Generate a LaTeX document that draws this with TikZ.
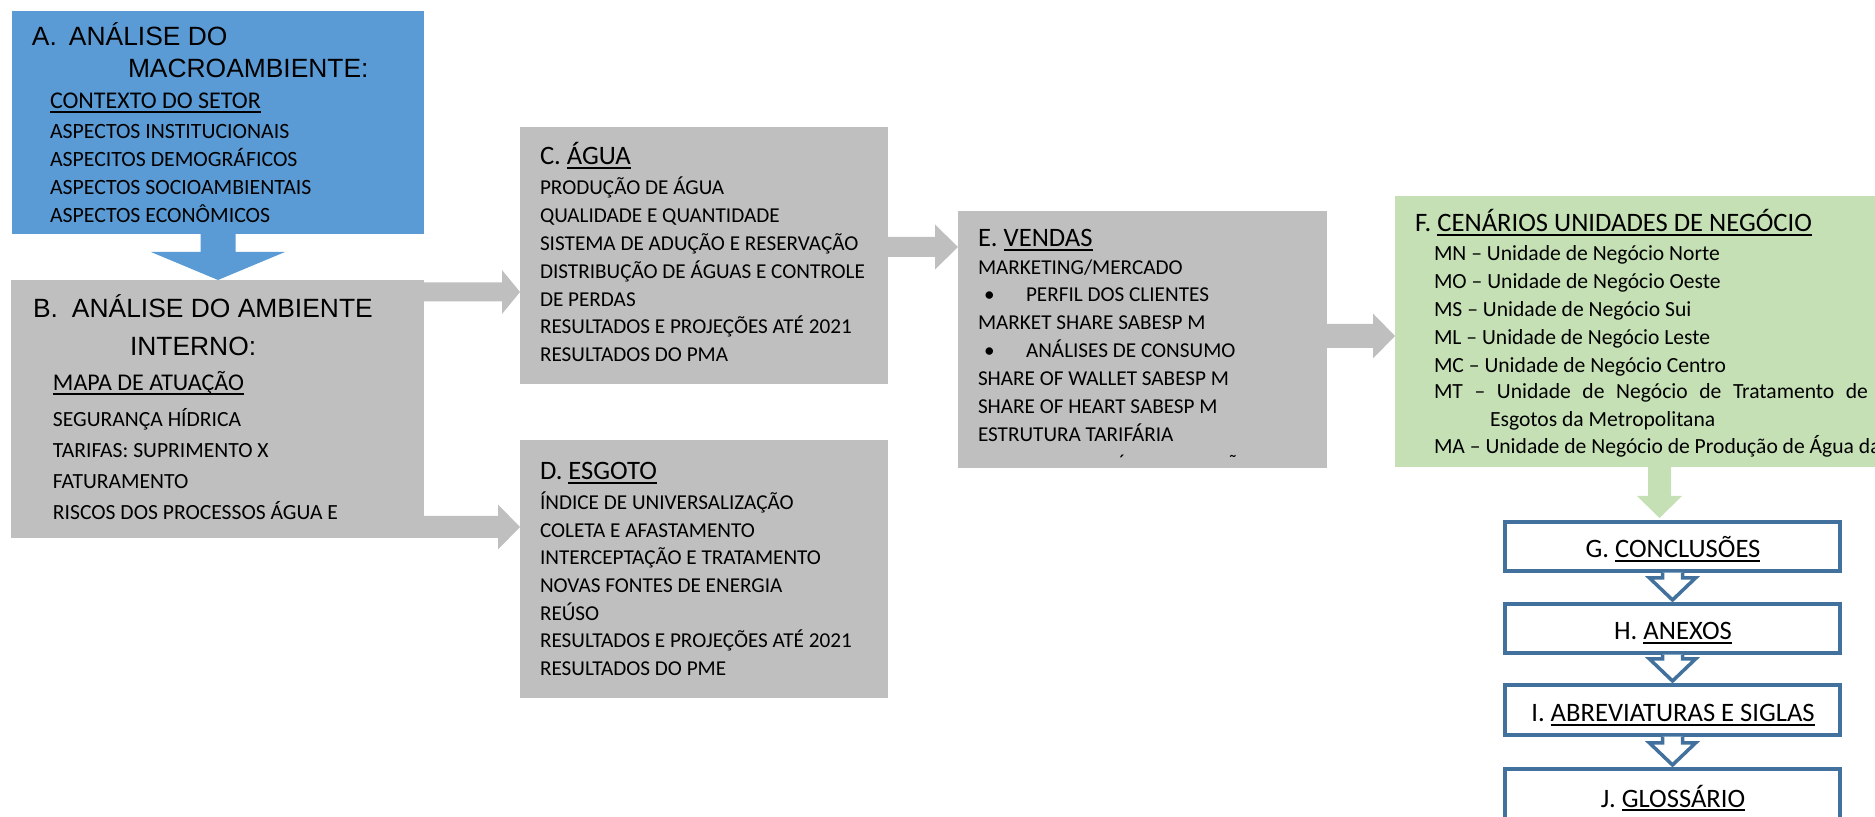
\documentclass[tikz,border=0pt]{standalone}
\usepackage{fontspec}
\setmainfont{Carlito}
\newfontfamily\arialfont{Liberation Sans}
\usetikzlibrary{calc}
\definecolor{ablue}{HTML}{5B9BD5}
\definecolor{bgray}{HTML}{BFBFBF}
\definecolor{fgreen}{HTML}{C5E0B4}
\definecolor{gblue}{HTML}{41719C}
\newcommand\myul[1]{\setbox0\hbox{#1}\rlap{\rule[-1.8pt]{\wd0}{0.8pt}}\box0}
\newcommand\harrow[6]{%
  \coordinate (hs) at (#2 |- #3);
  \coordinate (ht) at (#3);
  \fill[#1] ($(hs)+(0,-#4)$) -- ($(ht)+(-#6,-#4)$) -- ($(ht)+(-#6,-#5)$) -- (ht)
    -- ($(ht)+(-#6,#5)$) -- ($(ht)+(-#6,#4)$) -- ($(hs)+(0,#4)$) -- cycle;}
\newcommand\varrow[6]{%
  \coordinate (vs) at (#3 |- #2);
  \coordinate (vt) at (#3);
  \fill[#1] ($(vs)+(-#4,0)$) -- ($(vt)+(-#4,-#6)$) -- ($(vt)+(-#5,-#6)$) -- (vt)
    -- ($(vt)+(#5,-#6)$) -- ($(vt)+(#4,-#6)$) -- ($(vs)+(#4,0)$) -- cycle;}
\newcommand\hollowarrow[2]{%
  \coordinate (ws) at (#2 |- #1.south);
  \coordinate (wt) at ($(#2.north)+(0,-4)$);
  \draw[hollow] ($(ws)+(-10,1.75)$) -- ($(wt)+(-10,-22)$) -- ($(wt)+(-23,-22)$) -- (wt)
    -- ($(wt)+(23,-22)$) -- ($(wt)+(10,-22)$) -- ($(ws)+(10,1.75)$);}
\tikzset{
  box/.style={rectangle, inner sep=0pt, outer sep=0pt, anchor=north west},
  txt/.style={anchor=base west, inner sep=0pt, outer sep=0pt, text=black},
  ahead/.style={txt, font=\arialfont\fontsize{13.2pt}{15pt}\selectfont},
  chead/.style={txt, font=\fontsize{13.3pt}{15pt}\selectfont},
  ulhead/.style={txt, font=\fontsize{12pt}{14pt}\selectfont},
  body/.style={txt, font=\fontsize{10.6pt}{12pt}\selectfont},
  abody/.style={txt, font=\fontsize{10.9pt}{12pt}\selectfont},
  bbody/.style={txt, font=\fontsize{10.8pt}{12pt}\selectfont},
  fbody/.style={txt, font=\fontsize{10.8pt}{12pt}\selectfont},
  flowbox/.style={box, draw=gblue, line width=1.75pt, fill=white, minimum width=167.5pt},
  flowtxt/.style={anchor=base, inner sep=0pt, outer sep=0pt, font=\fontsize{13.3pt}{15pt}\selectfont},
  hollow/.style={draw=gblue, line width=1.75pt, fill=white, line join=miter},
}
\begin{document}
\begin{tikzpicture}[x=0.5pt,y=-0.5pt]
\useasboundingbox (0,0) rectangle (1875,817);
\clip (0,0) rectangle (1875,817);

% boxes
\node[box, fill=ablue, minimum width=206pt, minimum height=111.5pt] (A) at (12,11) {};
\node[box, fill=bgray, minimum width=206.5pt, minimum height=129pt] (B) at (11,280) {};
\node[box, fill=bgray, minimum width=184pt, minimum height=128.5pt] (C) at (520,127) {};
\node[box, fill=bgray, minimum width=184pt, minimum height=129pt] (D) at (520,440) {};
\node[box, fill=bgray, minimum width=184.5pt, minimum height=128.5pt] (E) at (958,211) {};
\node[box, fill=fgreen, minimum width=255pt, minimum height=135.5pt] (F) at (1395,196) {};
\node[flowbox, minimum height=24.5pt] (G) at (1505,522) {};
\node[flowbox, minimum height=24.5pt] (H) at (1505,604) {};
\node[flowbox, minimum height=25pt] (I) at (1505,685) {};
\node[flowbox, minimum height=35.5pt] (J) at (1505,769) {};

% connectors
\coordinate (tAB) at ($(B.north west)+(207,0)$);
\varrow{fill=ablue}{A.south}{tAB}{17.5}{67}{28}
\coordinate (tBC) at ($(C.north west)+(0,165)$);
\harrow{fill=bgray}{B.east}{tBC}{9.5}{22}{18}
\coordinate (tBD) at ($(D.north west)+(0,87)$);
\harrow{fill=bgray}{B.east}{tBD}{11}{22.5}{22}
\coordinate (tCE) at ($(E.north west)+(0,36)$);
\harrow{fill=bgray}{C.east}{tCE}{10}{22.5}{23}
\coordinate (tEF) at ($(F.north west)+(0,140)$);
\harrow{fill=bgray}{E.east}{tEF}{12}{22.5}{22}
\coordinate (tFG) at ($(G.north)+(-13,-4)$);
\varrow{fill=fgreen}{F.south}{tFG}{11.5}{22.5}{22}
\hollowarrow{G}{H}
\hollowarrow{H}{I}
\hollowarrow{I}{J}

% A text
\node[ahead] (a1) at (32,46) {\makebox[18.5pt][l]{A.}ANÁLISE DO};
\node[ahead] (a2) at (128,78) {MACROAMBIENTE:};
\node[ulhead] (a3) at (50,109) {\myul{CONTEXTO DO SETOR}};
\node[abody] (a4) at (50,139) {ASPECTOS INSTITUCIONAIS};
\node[abody] (a5) at (50,167) {ASPECITOS DEMOGRÁFICOS};
\node[abody] (a6) at (50,195) {ASPECTOS SOCIOAMBIENTAIS};
\node[abody] (a7) at (50,223) {ASPECTOS ECONÔMICOS};

% B text
\node[ahead] (b1) at (33,318) {\makebox[19.5pt][l]{B.}ANÁLISE DO AMBIENTE};
\node[ahead] (b2) at (130,356) {INTERNO:};
\node[ulhead] (b3) at (53,391) {\myul{MAPA DE ATUAÇÃO}};
\node[bbody] (b4) at (53,427) {SEGURANÇA HÍDRICA};
\node[bbody] (b5) at (53,458) {TARIFAS: SUPRIMENTO X};
\node[bbody] (b6) at (53,489) {FATURAMENTO};
\node[bbody] (b7) at (53,520) {RISCOS DOS PROCESSOS ÁGUA E};

% C text
\node[chead] (c0) at (540,165) {C. \myul{ÁGUA}};
\node[body] (c1) at (540,195) {PRODUÇÃO DE ÁGUA};
\node[body] (c2) at (540,223) {QUALIDADE E QUANTIDADE};
\node[body] (c3) at (540,251) {SISTEMA DE ADUÇÃO E RESERVAÇÃO};
\node[body] (c4) at (540,279) {DISTRIBUÇÃO DE ÁGUAS E CONTROLE};
\node[body] (c5) at (540,307) {DE PERDAS};
\node[body] (c6) at (540,334) {RESULTADOS E PROJEÇÕES ATÉ 2021};
\node[body] (c7) at (540,362) {RESULTADOS DO PMA};

% D text
\node[chead] (d0) at (540,480) {D. \myul{ESGOTO}};
\node[body] (d1) at (540,510) {ÍNDICE DE UNIVERSALIZAÇÃO};
\node[body] (d2) at (540,538) {COLETA E AFASTAMENTO};
\node[body] (d3) at (540,565) {INTERCEPTAÇÃO E TRATAMENTO};
\node[body] (d4) at (540,593) {NOVAS FONTES DE ENERGIA};
\node[body] (d5) at (540,621) {REÚSO};
\node[body] (d6) at (540,648) {RESULTADOS E PROJEÇÕES ATÉ 2021};
\node[body] (d7) at (540,676) {RESULTADOS DO PME};

% E text
\node[chead] (e0) at (978,247) {E. \myul{VENDAS}};
\node[body] (e1) at (978,275) {MARKETING/MERCADO};
\node[body] (e2) at (978,302) {\makebox[24pt][l]{\hspace{3pt}•}PERFIL DOS CLIENTES};
\node[body] (e3) at (978,330) {MARKET SHARE SABESP M};
\node[body] (e4) at (978,358) {\makebox[24pt][l]{\hspace{3pt}•}ANÁLISES DE CONSUMO};
\node[body] (e5) at (978,386) {SHARE OF WALLET SABESP M};
\node[body] (e6) at (978,414) {SHARE OF HEART SABESP M};
\node[body] (e7) at (978,442) {ESTRUTURA TARIFÁRIA};
\node[body] (e8) at (1119,470) {´};
\node[body] (e9) at (1228,470) {˜};

% F text
\node[chead] (f0) at (1415,232) {F. \myul{CENÁRIOS UNIDADES DE NEGÓCIO}};
\node[fbody] (f1) at (1434,261) {MN – Unidade de Negócio Norte};
\node[fbody] (f2) at (1434,289) {MO – Unidade de Negócio Oeste};
\node[fbody] (f3) at (1434,317) {MS – Unidade de Negócio Sui};
\node[fbody] (f4) at (1434,345) {ML – Unidade de Negócio Leste};
\node[fbody] (f5) at (1434,373) {MC – Unidade de Negócio Centro};
\node[fbody] (f6) at (1434,399) {\hbox to 217pt{MT\hfill–\hfill Unidade\hfill de\hfill Negócio\hfill de\hfill Tratamento\hfill de}};
\node[fbody] (f7) at (1490,427) {Esgotos da Metropolitana};
\node[fbody] (f8) at (1434,454) {MA – Unidade de Negócio de Produção de Água da};

% flow texts
\node[flowtxt] (g0) at (1673,558) {G. \myul{CONCLUSÕES}};
\node[flowtxt] (h0) at (1673,640) {H. \myul{ANEXOS}};
\node[flowtxt] (i0) at (1673,722) {I. \myul{ABREVIATURAS E SIGLAS}};
\node[flowtxt] (j0) at (1673,807) {J. \myul{GLOSSÁRIO}};
\end{tikzpicture}
\end{document}
